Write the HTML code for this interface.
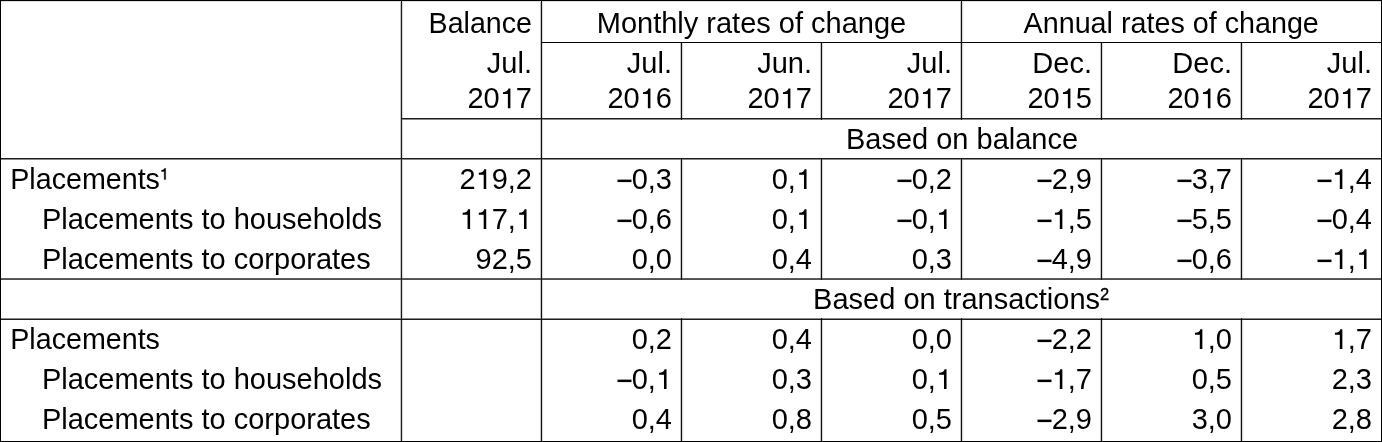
<!DOCTYPE html><html><head><meta charset="utf-8"><style>html,body{margin:0;padding:0;background:#fff;overflow:hidden}svg{display:block;will-change:transform}text{font-family:"Liberation Sans",sans-serif;fill:#000}</style></head><body>
<svg width="1382" height="442" viewBox="0 0 1382 442">
<rect x="0" y="0" width="1382" height="442" fill="#fff"/>
<g shape-rendering="crispEdges">
<rect x="400" y="0" width="1" height="442" fill="#c4c4c4"/>
<rect x="402" y="0" width="1" height="442" fill="#d8d8d8"/>
<rect x="403" y="0" width="1" height="442" fill="#fafafa"/>
<rect x="540" y="0" width="1" height="442" fill="#c4c4c4"/>
<rect x="542" y="0" width="1" height="442" fill="#d8d8d8"/>
<rect x="543" y="0" width="1" height="442" fill="#fafafa"/>
<rect x="960" y="0" width="1" height="120" fill="#c4c4c4"/>
<rect x="962" y="0" width="1" height="120" fill="#d8d8d8"/>
<rect x="963" y="0" width="1" height="120" fill="#fafafa"/>
<rect x="960" y="158" width="1" height="122" fill="#c4c4c4"/>
<rect x="962" y="158" width="1" height="122" fill="#d8d8d8"/>
<rect x="963" y="158" width="1" height="122" fill="#fafafa"/>
<rect x="960" y="318" width="1" height="124" fill="#c4c4c4"/>
<rect x="962" y="318" width="1" height="124" fill="#d8d8d8"/>
<rect x="963" y="318" width="1" height="124" fill="#fafafa"/>
<rect x="680" y="42" width="1" height="78" fill="#c4c4c4"/>
<rect x="682" y="42" width="1" height="78" fill="#d8d8d8"/>
<rect x="683" y="42" width="1" height="78" fill="#fafafa"/>
<rect x="680" y="158" width="1" height="122" fill="#c4c4c4"/>
<rect x="682" y="158" width="1" height="122" fill="#d8d8d8"/>
<rect x="683" y="158" width="1" height="122" fill="#fafafa"/>
<rect x="680" y="318" width="1" height="124" fill="#c4c4c4"/>
<rect x="682" y="318" width="1" height="124" fill="#d8d8d8"/>
<rect x="683" y="318" width="1" height="124" fill="#fafafa"/>
<rect x="820" y="42" width="1" height="78" fill="#c4c4c4"/>
<rect x="822" y="42" width="1" height="78" fill="#d8d8d8"/>
<rect x="823" y="42" width="1" height="78" fill="#fafafa"/>
<rect x="820" y="158" width="1" height="122" fill="#c4c4c4"/>
<rect x="822" y="158" width="1" height="122" fill="#d8d8d8"/>
<rect x="823" y="158" width="1" height="122" fill="#fafafa"/>
<rect x="820" y="318" width="1" height="124" fill="#c4c4c4"/>
<rect x="822" y="318" width="1" height="124" fill="#d8d8d8"/>
<rect x="823" y="318" width="1" height="124" fill="#fafafa"/>
<rect x="1100" y="42" width="1" height="78" fill="#c4c4c4"/>
<rect x="1102" y="42" width="1" height="78" fill="#d8d8d8"/>
<rect x="1103" y="42" width="1" height="78" fill="#fafafa"/>
<rect x="1100" y="158" width="1" height="122" fill="#c4c4c4"/>
<rect x="1102" y="158" width="1" height="122" fill="#d8d8d8"/>
<rect x="1103" y="158" width="1" height="122" fill="#fafafa"/>
<rect x="1100" y="318" width="1" height="124" fill="#c4c4c4"/>
<rect x="1102" y="318" width="1" height="124" fill="#d8d8d8"/>
<rect x="1103" y="318" width="1" height="124" fill="#fafafa"/>
<rect x="1240" y="42" width="1" height="78" fill="#c4c4c4"/>
<rect x="1242" y="42" width="1" height="78" fill="#d8d8d8"/>
<rect x="1243" y="42" width="1" height="78" fill="#fafafa"/>
<rect x="1240" y="158" width="1" height="122" fill="#c4c4c4"/>
<rect x="1242" y="158" width="1" height="122" fill="#d8d8d8"/>
<rect x="1243" y="158" width="1" height="122" fill="#fafafa"/>
<rect x="1240" y="318" width="1" height="124" fill="#c4c4c4"/>
<rect x="1242" y="318" width="1" height="124" fill="#d8d8d8"/>
<rect x="1243" y="318" width="1" height="124" fill="#fafafa"/>
<rect x="0" y="0" width="1382" height="1" fill="#000"/>
<rect x="0" y="1" width="1382" height="1" fill="#ddd"/>
<rect x="541" y="42" width="841" height="1" fill="#000"/>
<rect x="401" y="118" width="981" height="1" fill="#1c1c1c"/>
<rect x="401" y="119" width="981" height="1" fill="#888"/>
<rect x="0" y="158" width="1382" height="1" fill="#1c1c1c"/>
<rect x="0" y="159" width="1382" height="1" fill="#888"/>
<rect x="0" y="278" width="1382" height="1" fill="#5c5c5c"/>
<rect x="0" y="279" width="1382" height="1" fill="#505050"/>
<rect x="0" y="318" width="1382" height="1" fill="#888"/>
<rect x="0" y="319" width="1382" height="1" fill="#1c1c1c"/>
<rect x="0" y="441" width="1382" height="1" fill="#000"/>
<rect x="0" y="0" width="1" height="442" fill="#000"/>
<rect x="1381" y="0" width="1" height="442" fill="#000"/>
<rect x="401" y="0" width="1" height="442" fill="#1a1a1a"/>
<rect x="541" y="0" width="1" height="442" fill="#111"/>
<rect x="961" y="0" width="1" height="120" fill="#111"/>
<rect x="961" y="158" width="1" height="122" fill="#111"/>
<rect x="961" y="318" width="1" height="124" fill="#111"/>
<rect x="681" y="42" width="1" height="78" fill="#111"/>
<rect x="681" y="158" width="1" height="122" fill="#111"/>
<rect x="681" y="318" width="1" height="124" fill="#111"/>
<rect x="821" y="42" width="1" height="78" fill="#111"/>
<rect x="821" y="158" width="1" height="122" fill="#111"/>
<rect x="821" y="318" width="1" height="124" fill="#111"/>
<rect x="1101" y="42" width="1" height="78" fill="#111"/>
<rect x="1101" y="158" width="1" height="122" fill="#111"/>
<rect x="1101" y="318" width="1" height="124" fill="#111"/>
<rect x="1241" y="42" width="1" height="78" fill="#111"/>
<rect x="1241" y="158" width="1" height="122" fill="#111"/>
<rect x="1241" y="318" width="1" height="124" fill="#111"/>
</g>
<rect x="617.49" y="179.6" width="14" height="2.5" fill="#000"/>
<rect x="897.49" y="179.6" width="14" height="2.5" fill="#000"/>
<rect x="1037.49" y="179.6" width="14" height="2.5" fill="#000"/>
<rect x="1177.49" y="179.6" width="14" height="2.5" fill="#000"/>
<rect x="1317.49" y="179.6" width="14" height="2.5" fill="#000"/>
<rect x="617.49" y="219.6" width="14" height="2.5" fill="#000"/>
<rect x="897.49" y="219.6" width="14" height="2.5" fill="#000"/>
<rect x="1037.49" y="219.6" width="14" height="2.5" fill="#000"/>
<rect x="1177.49" y="219.6" width="14" height="2.5" fill="#000"/>
<rect x="1317.49" y="219.6" width="14" height="2.5" fill="#000"/>
<rect x="1037.49" y="259.6" width="14" height="2.5" fill="#000"/>
<rect x="1177.49" y="259.6" width="14" height="2.5" fill="#000"/>
<rect x="1317.49" y="259.6" width="14" height="2.5" fill="#000"/>
<rect x="1037.49" y="339.6" width="14" height="2.5" fill="#000"/>
<rect x="617.49" y="379.6" width="14" height="2.5" fill="#000"/>
<rect x="1037.49" y="379.6" width="14" height="2.5" fill="#000"/>
<rect x="1037.49" y="419.6" width="14" height="2.5" fill="#000"/>
<text x="532" y="32.6" text-anchor="end" font-size="29" textLength="103.4" lengthAdjust="spacingAndGlyphs">Balance</text>
<text x="751.5" y="32.6" text-anchor="middle" font-size="29">Monthly rates of change</text>
<text x="1171.2" y="32.6" text-anchor="middle" font-size="29" textLength="295.27" lengthAdjust="spacingAndGlyphs">Annual rates of change</text>
<text x="532" y="72.5" text-anchor="end" font-size="29">Jul.</text>
<text x="532" y="108.3" text-anchor="end" font-size="29">20 7</text>
<text x="672" y="72.5" text-anchor="end" font-size="29">Jul.</text>
<text x="672" y="108.3" text-anchor="end" font-size="29">20 6</text>
<text x="812" y="72.5" text-anchor="end" font-size="29">Jun.</text>
<text x="812" y="108.3" text-anchor="end" font-size="29">20 7</text>
<text x="952" y="72.5" text-anchor="end" font-size="29">Jul.</text>
<text x="952" y="108.3" text-anchor="end" font-size="29">20 7</text>
<text x="1092" y="72.5" text-anchor="end" font-size="29">Dec.</text>
<text x="1092" y="108.3" text-anchor="end" font-size="29">20 5</text>
<text x="1232" y="72.5" text-anchor="end" font-size="29">Dec.</text>
<text x="1232" y="108.3" text-anchor="end" font-size="29">20 6</text>
<text x="1372" y="72.5" text-anchor="end" font-size="29">Jul.</text>
<text x="1372" y="108.3" text-anchor="end" font-size="29">20 7</text>
<text x="962" y="149.2" text-anchor="middle" font-size="29">Based on balance</text>
<text x="10.22" y="189" text-anchor="start" font-size="29" textLength="149.71" lengthAdjust="spacingAndGlyphs">Placements</text>
<text x="532" y="189" text-anchor="end" font-size="29">2 9,2</text>
<text x="672" y="189" text-anchor="end" font-size="29">0,3</text>
<text x="812" y="189" text-anchor="end" font-size="29">0, </text>
<text x="952" y="189" text-anchor="end" font-size="29">0,2</text>
<text x="1092" y="189" text-anchor="end" font-size="29">2,9</text>
<text x="1232" y="189" text-anchor="end" font-size="29">3,7</text>
<text x="1372" y="189" text-anchor="end" font-size="29"> ,4</text>
<text x="41.92" y="229" text-anchor="start" font-size="29">Placements to households</text>
<text x="532" y="229" text-anchor="end" font-size="29">  7, </text>
<text x="672" y="229" text-anchor="end" font-size="29">0,6</text>
<text x="812" y="229" text-anchor="end" font-size="29">0, </text>
<text x="952" y="229" text-anchor="end" font-size="29">0, </text>
<text x="1092" y="229" text-anchor="end" font-size="29"> ,5</text>
<text x="1232" y="229" text-anchor="end" font-size="29">5,5</text>
<text x="1372" y="229" text-anchor="end" font-size="29">0,4</text>
<text x="41.92" y="269" text-anchor="start" font-size="29">Placements to corporates</text>
<text x="532" y="269" text-anchor="end" font-size="29">92,5</text>
<text x="672" y="269" text-anchor="end" font-size="29">0,0</text>
<text x="812" y="269" text-anchor="end" font-size="29">0,4</text>
<text x="952" y="269" text-anchor="end" font-size="29">0,3</text>
<text x="1092" y="269" text-anchor="end" font-size="29">4,9</text>
<text x="1232" y="269" text-anchor="end" font-size="29">0,6</text>
<text x="1372" y="269" text-anchor="end" font-size="29"> , </text>
<text x="10.22" y="349" text-anchor="start" font-size="29" textLength="149.71" lengthAdjust="spacingAndGlyphs">Placements</text>
<text x="672" y="349" text-anchor="end" font-size="29">0,2</text>
<text x="812" y="349" text-anchor="end" font-size="29">0,4</text>
<text x="952" y="349" text-anchor="end" font-size="29">0,0</text>
<text x="1092" y="349" text-anchor="end" font-size="29">2,2</text>
<text x="1232" y="349" text-anchor="end" font-size="29"> ,0</text>
<text x="1372" y="349" text-anchor="end" font-size="29"> ,7</text>
<text x="41.92" y="389" text-anchor="start" font-size="29">Placements to households</text>
<text x="672" y="389" text-anchor="end" font-size="29">0, </text>
<text x="812" y="389" text-anchor="end" font-size="29">0,3</text>
<text x="952" y="389" text-anchor="end" font-size="29">0, </text>
<text x="1092" y="389" text-anchor="end" font-size="29"> ,7</text>
<text x="1232" y="389" text-anchor="end" font-size="29">0,5</text>
<text x="1372" y="389" text-anchor="end" font-size="29">2,3</text>
<text x="41.92" y="429" text-anchor="start" font-size="29">Placements to corporates</text>
<text x="672" y="429" text-anchor="end" font-size="29">0,4</text>
<text x="812" y="429" text-anchor="end" font-size="29">0,8</text>
<text x="952" y="429" text-anchor="end" font-size="29">0,5</text>
<text x="1092" y="429" text-anchor="end" font-size="29">2,9</text>
<text x="1232" y="429" text-anchor="end" font-size="29">3,0</text>
<text x="1372" y="429" text-anchor="end" font-size="29">2,8</text>
<text x="813.12" y="309.1" text-anchor="start" font-size="29">Based on transactions</text>
<text x="1100.07" y="299.7" text-anchor="start" font-size="16.5" stroke="#000" stroke-width="0.35">2</text>
<path d="M280 0H368V680H300C288 615 235 565 112 557V490H280Z" transform="translate(499.74 108.3) scale(0.029 -0.029)"/>
<path d="M280 0H368V680H300C288 615 235 565 112 557V490H280Z" transform="translate(639.74 108.3) scale(0.029 -0.029)"/>
<path d="M280 0H368V680H300C288 615 235 565 112 557V490H280Z" transform="translate(779.74 108.3) scale(0.029 -0.029)"/>
<path d="M280 0H368V680H300C288 615 235 565 112 557V490H280Z" transform="translate(919.74 108.3) scale(0.029 -0.029)"/>
<path d="M280 0H368V680H300C288 615 235 565 112 557V490H280Z" transform="translate(1059.74 108.3) scale(0.029 -0.029)"/>
<path d="M280 0H368V680H300C288 615 235 565 112 557V490H280Z" transform="translate(1199.74 108.3) scale(0.029 -0.029)"/>
<path d="M280 0H368V680H300C288 615 235 565 112 557V490H280Z" transform="translate(1339.74 108.3) scale(0.029 -0.029)"/>
<path d="M280 0H368V680H300C288 615 235 565 112 557V490H280Z" transform="translate(475.56 189) scale(0.029 -0.029)"/>
<path d="M280 0H368V680H300C288 615 235 565 112 557V490H280Z" transform="translate(795.87 189) scale(0.029 -0.029)"/>
<path d="M280 0H368V680H300C288 615 235 565 112 557V490H280Z" transform="translate(1331.69 189) scale(0.029 -0.029)"/>
<path d="M280 0H368V680H300C288 615 235 565 112 557V490H280Z" transform="translate(459.43 229) scale(0.029 -0.029)"/>
<path d="M280 0H368V680H300C288 615 235 565 112 557V490H280Z" transform="translate(475.56 229) scale(0.029 -0.029)"/>
<path d="M280 0H368V680H300C288 615 235 565 112 557V490H280Z" transform="translate(515.87 229) scale(0.029 -0.029)"/>
<path d="M280 0H368V680H300C288 615 235 565 112 557V490H280Z" transform="translate(795.87 229) scale(0.029 -0.029)"/>
<path d="M280 0H368V680H300C288 615 235 565 112 557V490H280Z" transform="translate(935.87 229) scale(0.029 -0.029)"/>
<path d="M280 0H368V680H300C288 615 235 565 112 557V490H280Z" transform="translate(1051.69 229) scale(0.029 -0.029)"/>
<path d="M280 0H368V680H300C288 615 235 565 112 557V490H280Z" transform="translate(1331.69 269) scale(0.029 -0.029)"/>
<path d="M280 0H368V680H300C288 615 235 565 112 557V490H280Z" transform="translate(1355.87 269) scale(0.029 -0.029)"/>
<path d="M280 0H368V680H300C288 615 235 565 112 557V490H280Z" transform="translate(1191.69 349) scale(0.029 -0.029)"/>
<path d="M280 0H368V680H300C288 615 235 565 112 557V490H280Z" transform="translate(1331.69 349) scale(0.029 -0.029)"/>
<path d="M280 0H368V680H300C288 615 235 565 112 557V490H280Z" transform="translate(655.87 389) scale(0.029 -0.029)"/>
<path d="M280 0H368V680H300C288 615 235 565 112 557V490H280Z" transform="translate(935.87 389) scale(0.029 -0.029)"/>
<path d="M280 0H368V680H300C288 615 235 565 112 557V490H280Z" transform="translate(1051.69 389) scale(0.029 -0.029)"/>
<path d="M280 0H368V680H300C288 615 235 565 112 557V490H280Z" transform="translate(159.6 179.5) scale(0.0165 -0.0165)" stroke="#000" stroke-width="20"/>
</svg></body></html>
